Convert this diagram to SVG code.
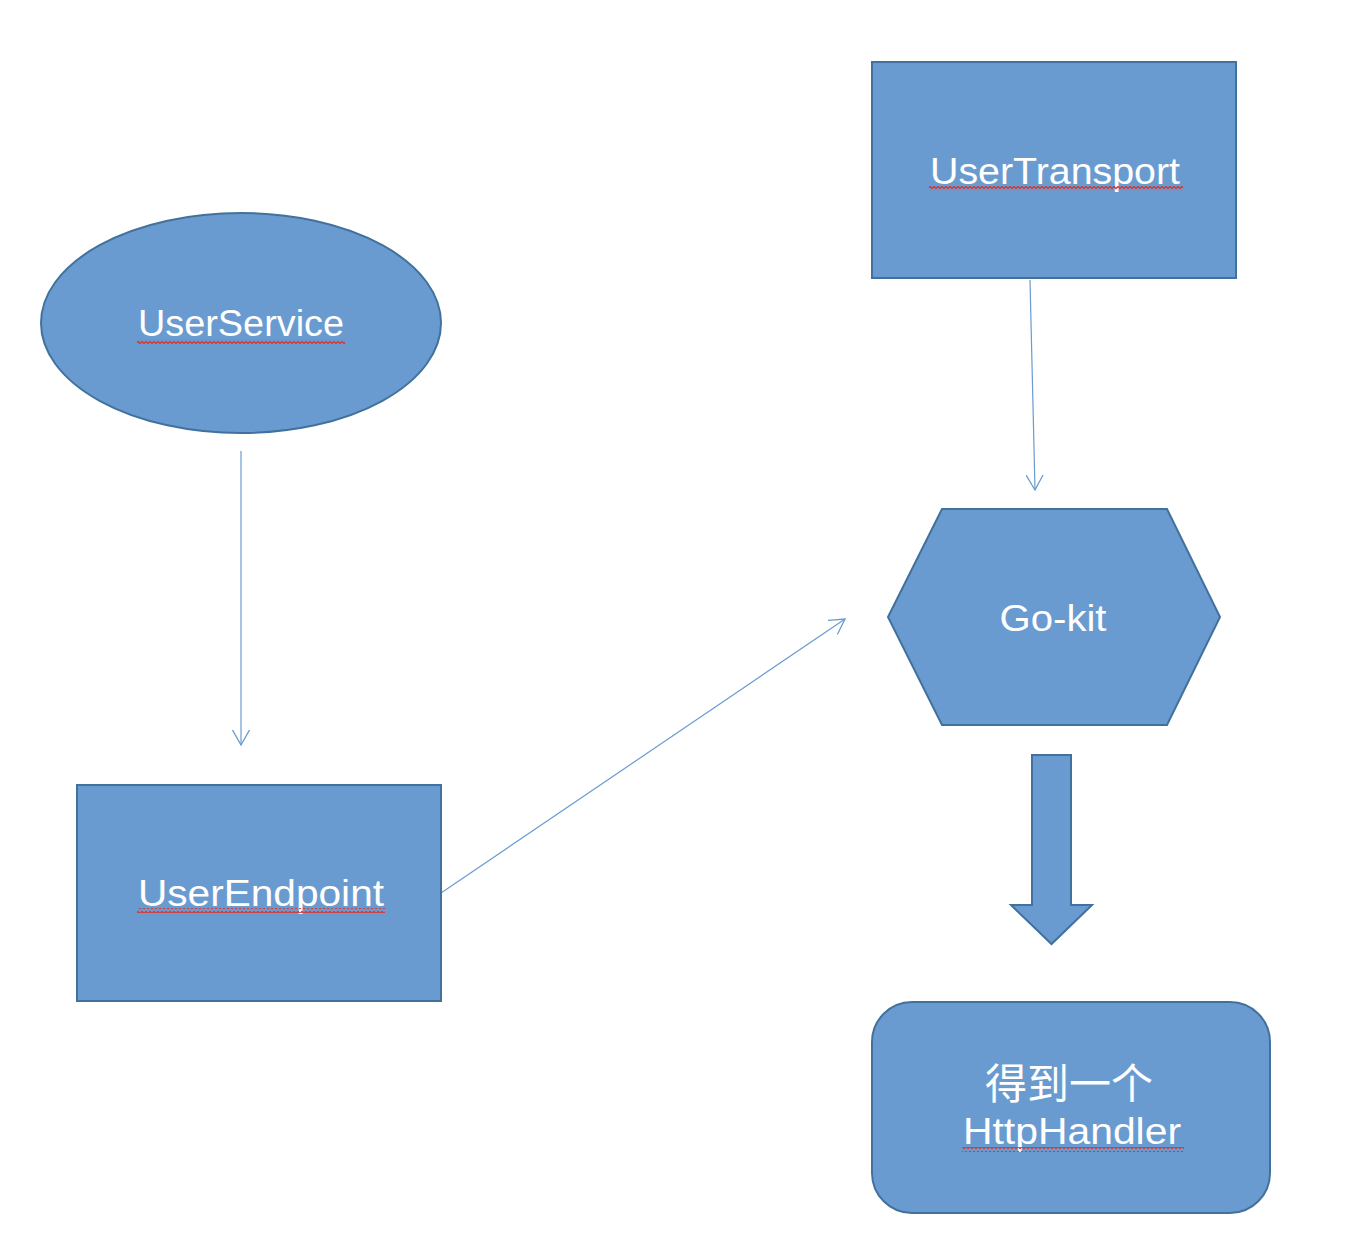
<svg xmlns="http://www.w3.org/2000/svg" width="1370" height="1250" viewBox="0 0 1370 1250">
<style>
.shape{fill:#6A9BD0;stroke:#41719C;stroke-width:2}
.lbl{fill:#FFFFFF;font-family:"Liberation Sans","Noto Sans CJK SC",sans-serif;font-size:36px;text-anchor:middle}
.cjk{fill:#FFFFFF;font-family:"Noto Sans CJK SC",sans-serif;font-size:42px;text-anchor:middle}
.conn{stroke:#6A9BD0;stroke-width:1.2;fill:none}
.sq{fill:url(#squiggle)}
</style>
<defs>
<marker id="open" viewBox="0 0 16 18" refX="15" refY="9" markerWidth="16" markerHeight="18" markerUnits="userSpaceOnUse" orient="auto">
<path d="M0,0.5 L15,9 L0,17.5" fill="none" stroke="#6A9BD0" stroke-width="1.3"/>
</marker>
<pattern id="squiggle" patternUnits="userSpaceOnUse" width="4" height="5" x="0" y="0">
<path d="M-1,4.5 L0,3.5 L2,1.5 L4,3.5 L5,4.5" fill="none" stroke="#D9372E" stroke-width="1.4"/>
</pattern>
</defs>
<rect width="1370" height="1250" fill="#FFFFFF"/>
<g id="connectors">
<line class="conn" x1="241" y1="451" x2="241" y2="745" marker-end="url(#open)"/>
<line class="conn" x1="1030" y1="280" x2="1035" y2="490" marker-end="url(#open)"/>
<line class="conn" x1="441" y1="893" x2="845" y2="619" marker-end="url(#open)"/>
<polygon id="bigArrow" class="shape" points="1032,755 1071,755 1071,905 1092,905 1051.5,944 1011,905 1032,905"/>
</g>
<g id="userService">
<ellipse class="shape" cx="241" cy="323" rx="200" ry="110"/>
<text class="lbl" x="241" y="336" textLength="206" lengthAdjust="spacingAndGlyphs">UserService</text>
<rect class="sq" x="137" y="339" width="208" height="5"/>
</g>
<g id="userTransport">
<rect class="shape" x="872" y="62" width="364" height="216"/>
<text class="lbl" x="1055" y="184" textLength="250" lengthAdjust="spacingAndGlyphs">UserTransport</text>
<rect class="sq" x="929" y="186" width="254" height="5"/>
</g>
<g id="userEndpoint">
<rect class="shape" x="77" y="785" width="364" height="216"/>
<text class="lbl" x="261" y="906" textLength="246" lengthAdjust="spacingAndGlyphs">UserEndpoint</text>
<rect class="sq" x="137" y="908" width="248" height="5"/>
</g>
<g id="gokit">
<polygon class="shape" points="888,617 942,509 1167,509 1220,617 1167,725 942,725"/>
<text class="lbl" x="1053" y="631" textLength="107" lengthAdjust="spacingAndGlyphs">Go-kit</text>
</g>
<g id="httpHandler">
<rect class="shape" x="872" y="1002" width="398" height="211" rx="40" ry="40"/>
<text class="cjk" x="1069" y="1099">得到一个</text>
<text class="lbl" x="1072" y="1144" textLength="218" lengthAdjust="spacingAndGlyphs">HttpHandler</text>
<rect class="sq" x="962" y="1147" width="222" height="5"/>
</g>
</svg>
